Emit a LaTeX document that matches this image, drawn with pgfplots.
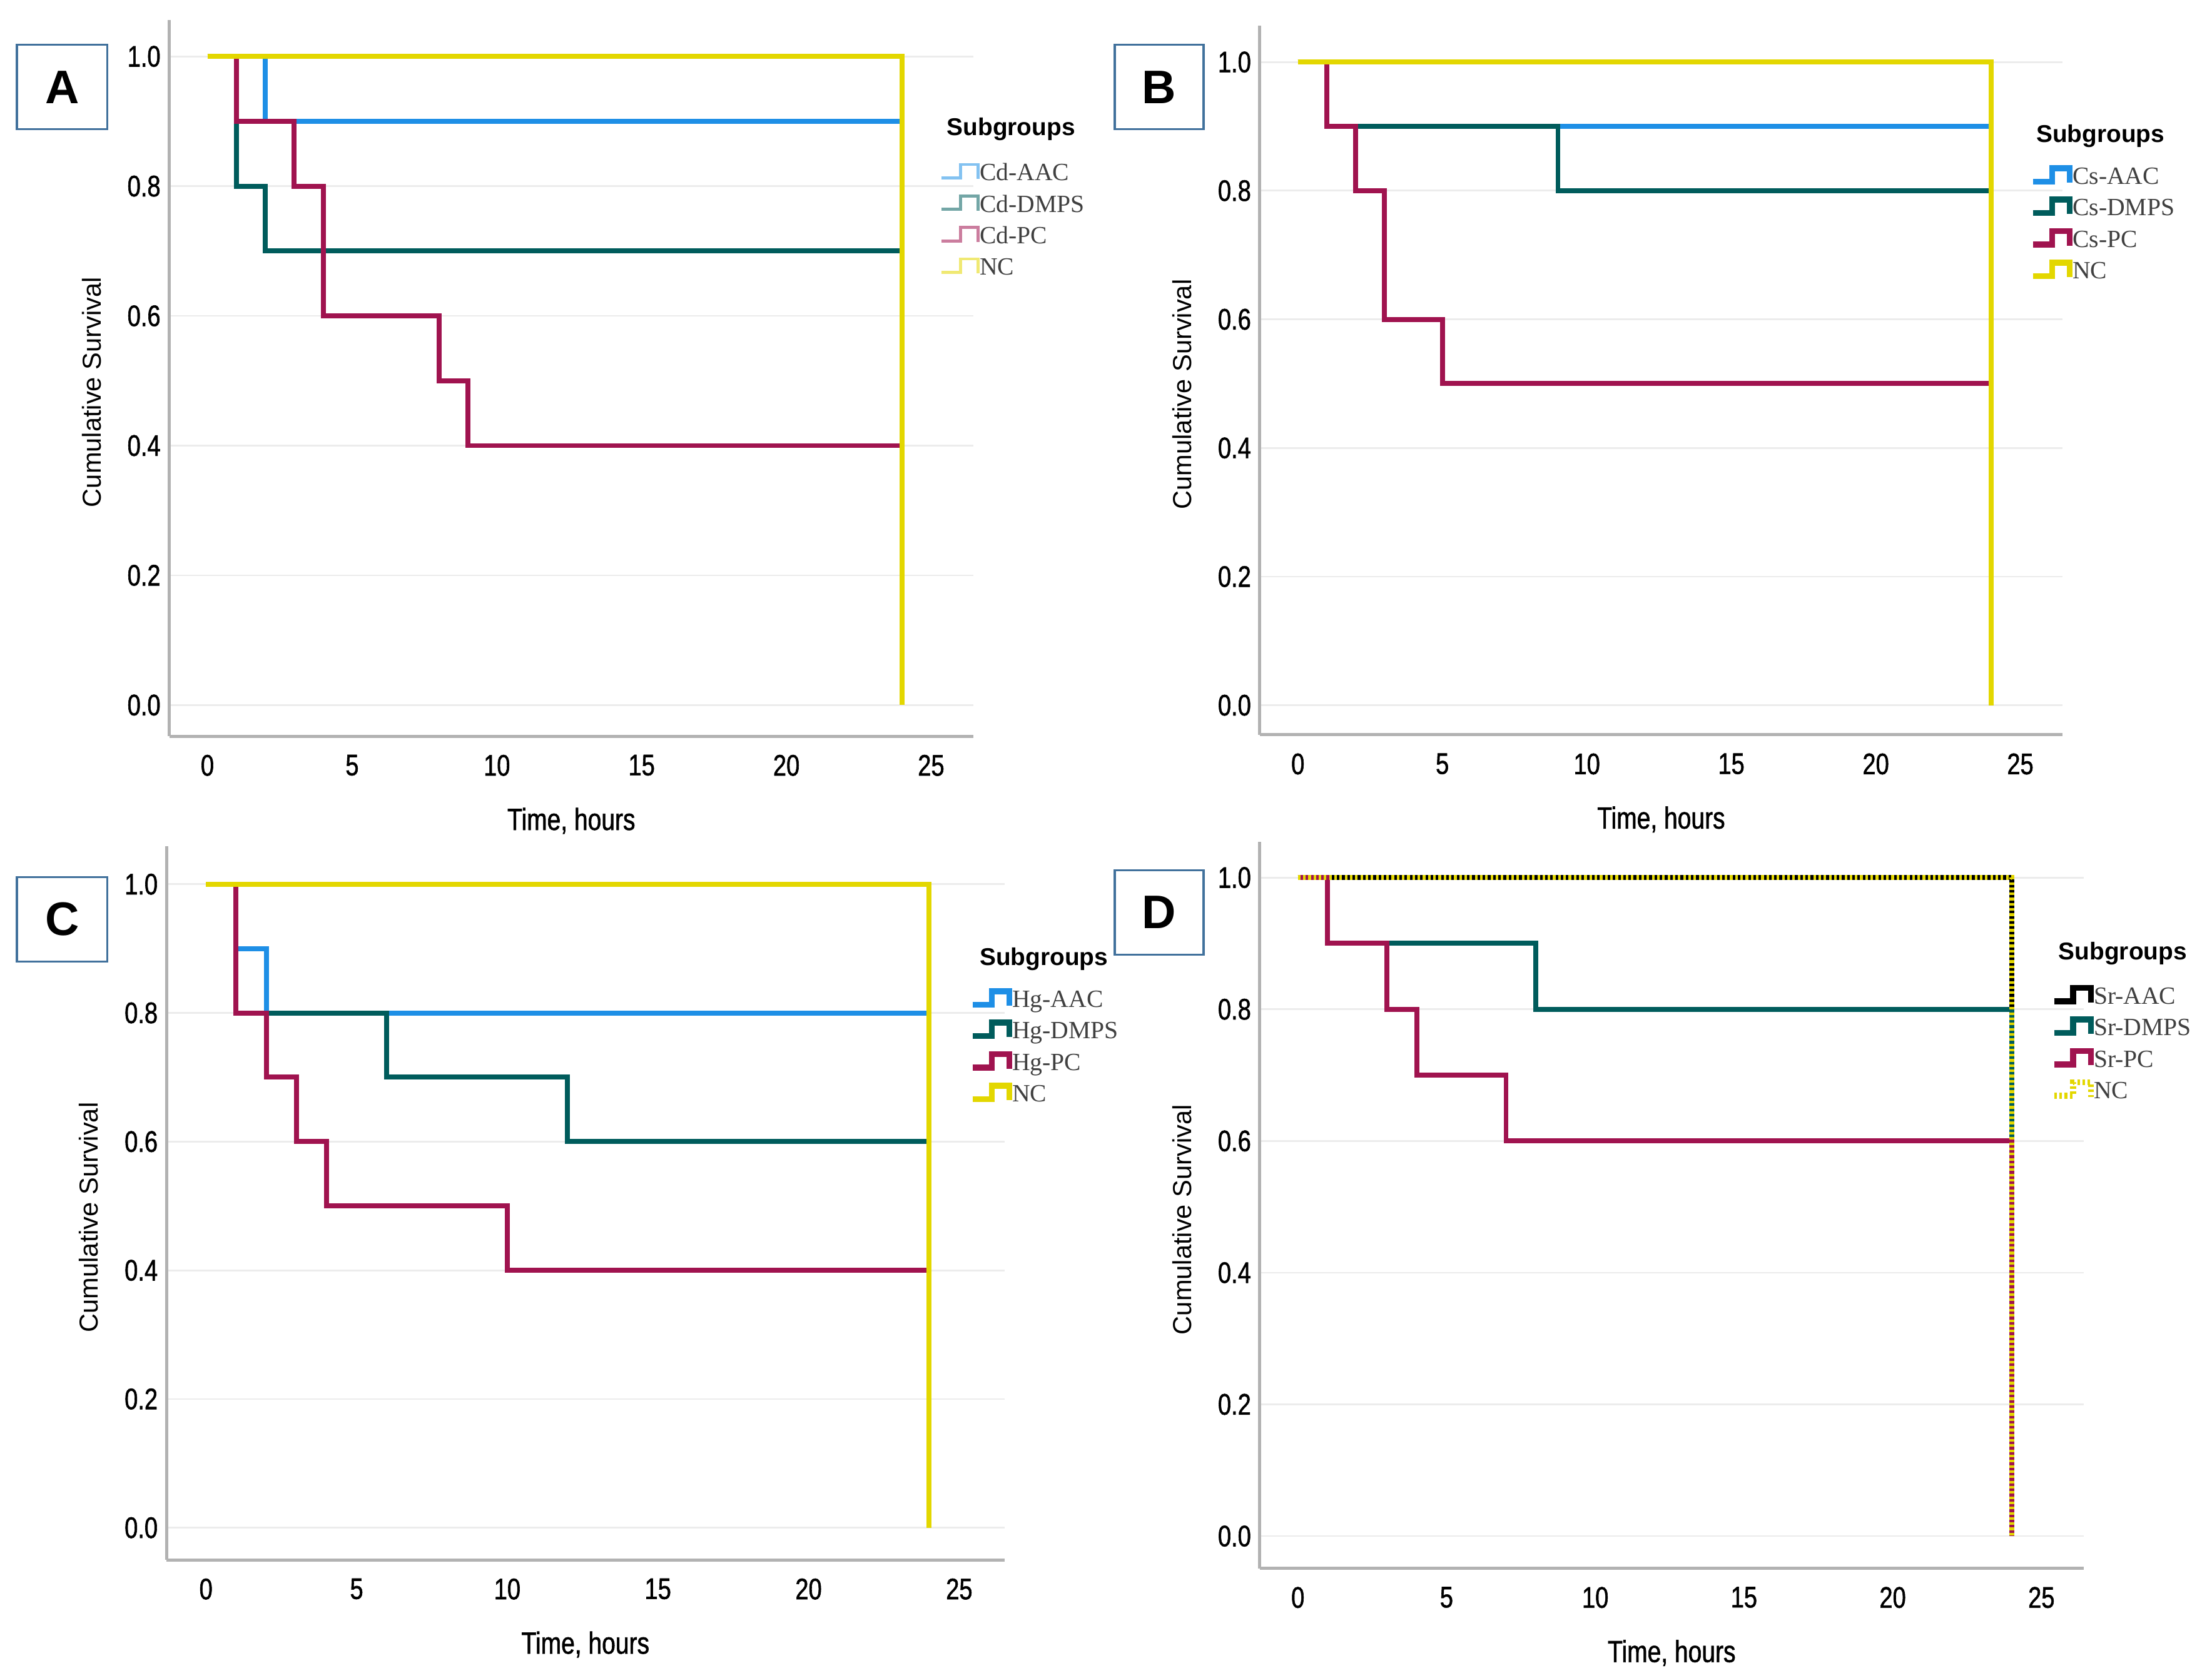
\documentclass[border=0pt]{standalone}
\usepackage{fontspec}
\setmainfont{Liberation Sans}
\newfontfamily\narrowsans[FakeStretch=0.8,FakeBold=1.2]{Liberation Sans}
\newfontfamily\legserif{Liberation Serif}
\usepackage{pgfplots}
\pgfplotsset{compat=1.18}

\definecolor{kmblue}{HTML}{1E8FE6}
\definecolor{kmteal}{HTML}{005C5C}
\definecolor{kmred}{HTML}{A0134F}
\definecolor{kmyellow}{HTML}{E3D700}
\definecolor{boxblue}{HTML}{41719C}

\pgfplotsset{
  km/.style={
    scale only axis,
    axis x line*=bottom, axis y line*=left,
    axis line style={-, draw=gray!60, line width=1.3pt},
    major tick length=0pt,
    ymajorgrids, grid style={draw=gray!15, line width=0.7pt},
    xtick={0,5,10,15,20,25}, ytick={0,0.2,0.4,0.6,0.8,1.0},
    yticklabel style={/pgf/number format/.cd, fixed, fixed zerofill, precision=1},
    /pgf/number format/assume math mode=true,
    tick label style={font=\fontsize{12}{14}\selectfont\narrowsans},
    xticklabel style={yshift=-1.4mm},
    xlabel={Time, hours}, ylabel={Cumulative Survival},
    xlabel style={font=\fontsize{12.3}{14}\selectfont\narrowsans, at={([yshift=-12mm]axis description cs:0.5,0)}, anchor=center},
    ylabel style={font=\fontsize{10.5}{12}\selectfont, at={([xshift=-11mm]axis description cs:0,0.48)}, anchor=center},
    legend cell align=left,
    legend style={draw=none, fill=none, inner sep=0pt, anchor=north west,
      font=\fontsize{10}{12}\selectfont\legserif, text=black!75,
      nodes={inner sep=0pt, text height=9.7pt, text depth=3pt},
      row sep=0pt, column sep=0pt},
    legend image code/.code={\draw[##1,line width=2.4pt] (0,-0.8mm) -- (2.7mm,-0.8mm) -- (2.7mm,1.1mm) -- (5.2mm,1.1mm) -- (5.2mm,-0.95mm);},
  },
  kmline/.style={const plot, line width=2pt, mark=none},
}

\begin{document}
\begin{tikzpicture}
\path[use as bounding box] (0,0) rectangle (31.36,23.72);

% A: cadmium
\begin{axis}[km, at={(2.40cm,13.28cm)}, anchor=south west,
  width=11.40cm, height=10.16cm,
  xmin=-1.316, xmax=26.46, ymin=-0.048, ymax=1.0565,
  legend style={at={(0.958,0.8097)}},
  legend image code/.code={\draw[#1,line width=1.2pt,opacity=0.55] (0,-0.8mm) -- (2.7mm,-0.8mm) -- (2.7mm,1.1mm) -- (5.2mm,1.1mm) -- (5.2mm,-0.95mm);}]
\addplot[kmline, kmblue] coordinates {(0,1) (2,0.9) (24,0.9)};
\addlegendentry{Cd-AAC}
\addplot[kmline, kmteal] coordinates {(0,1) (1,0.8) (2,0.7) (24,0.7)};
\addlegendentry{Cd-DMPS}
\addplot[kmline, kmred] coordinates {(0,1) (1,0.9) (3,0.8) (4,0.6) (8,0.5) (9,0.4) (24,0.4)};
\addlegendentry{Cd-PC}
\addplot[kmline, kmyellow] coordinates {(0,1) (24,0)};
\addlegendentry{NC}
\end{axis}

% B: caesium
\begin{axis}[km, at={(17.86cm,13.30cm)}, anchor=south west,
  width=11.38cm, height=10.06cm,
  xmin=-1.318, xmax=26.46, ymin=-0.046, ymax=1.057,
  legend style={at={(0.959,0.8107)}}]
\addplot[kmline, kmblue] coordinates {(0,1) (1,0.9) (24,0.9)};
\addlegendentry{Cs-AAC}
\addplot[kmline, kmteal] coordinates {(0,1) (1,0.9) (9,0.8) (24,0.8)};
\addlegendentry{Cs-DMPS}
\addplot[kmline, kmred] coordinates {(0,1) (1,0.9) (2,0.8) (3,0.6) (5,0.5) (24,0.5)};
\addlegendentry{Cs-PC}
\addplot[kmline, kmyellow] coordinates {(0,1) (24,0)};
\addlegendentry{NC}
\end{axis}

% C: mercury
\begin{axis}[km, at={(2.36cm,1.60cm)}, anchor=south west,
  width=11.88cm, height=10.12cm,
  xmin=-1.311, xmax=26.5, ymin=-0.05, ymax=1.059,
  legend style={at={(0.958,0.8087)}}]
\addplot[kmline, kmblue] coordinates {(0,1) (1,0.9) (2,0.8) (24,0.8)};
\addlegendentry{Hg-AAC}
\addplot[kmline, kmteal] coordinates {(0,1) (1,0.8) (6,0.7) (12,0.6) (24,0.6)};
\addlegendentry{Hg-DMPS}
\addplot[kmline, kmred] coordinates {(0,1) (1,0.8) (2,0.7) (3,0.6) (4,0.5) (10,0.4) (24,0.4)};
\addlegendentry{Hg-PC}
\addplot[kmline, kmyellow] coordinates {(0,1) (24,0)};
\addlegendentry{NC}
\end{axis}

% D: strontium
\begin{axis}[km, at={(17.86cm,1.48cm)}, anchor=south west,
  width=11.68cm, height=10.30cm,
  xmin=-1.28, xmax=26.42, ymin=-0.049, ymax=1.054,
  legend style={at={(0.960,0.8107)}}]
\addplot[kmline, black] coordinates {(0,1) (24,0)};
\addlegendentry{Sr-AAC}
\addplot[kmline, kmteal] coordinates {(0,1) (1,0.9) (8,0.8) (24,0)};
\addlegendentry{Sr-DMPS}
\addplot[kmline, kmred] coordinates {(0,1) (1,0.9) (3,0.8) (4,0.7) (7,0.6) (24,0)};
\addlegendentry{Sr-PC}
\addplot[kmline, kmyellow, dash pattern=on 1.05pt off 1.05pt] coordinates {(0,1) (24,0)};
\addlegendentry{NC}
\end{axis}

% legend titles
\foreach \x/\y in {716.5/96.1, 1488.6/101.3, 739.8/684.4, 1504.4/680.7}
  \node[anchor=base, inner sep=0pt, font=\fontsize{9.8}{12}\selectfont\bfseries]
    at ({\x*0.02},{(1186-\y)*0.02}) {Subgroups};

% panel letters
\foreach \l/\xa/\ya/\xb/\yb in {A/12/32/76/92, B/790/32/853/92, C/12/622/76/682, D/790/617/853/677}
  \node[draw=boxblue, line width=0.8pt, inner sep=0pt,
        minimum width={(\xb-\xa)*0.2mm}, minimum height={(\yb-\ya)*0.2mm},
        font=\fontsize{19}{22}\selectfont\bfseries]
    at ({(\xa+\xb)/2*0.02},{(1186-(\ya+\yb)/2)*0.02}) {\l};
\end{tikzpicture}
\end{document}
